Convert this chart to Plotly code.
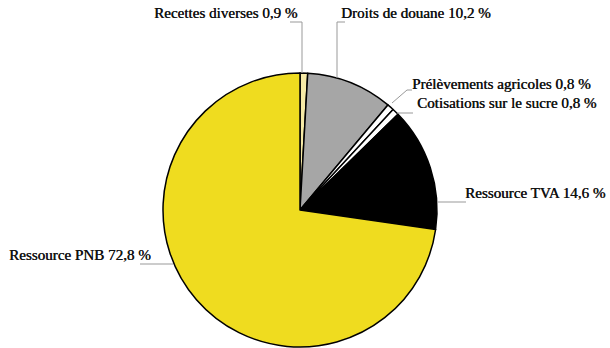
import plotly.graph_objects as go

labels = ["Recettes diverses", "Droits de douane", "Prélèvements agricoles",
          "Cotisations sur le sucre", "Ressource TVA", "Ressource PNB"]
values = [0.9, 10.2, 0.8, 0.8, 14.6, 72.8]
value_text = ["0,9 %", "10,2 %", "0,8 %", "0,8 %", "14,6 %", "72,8 %"]
colors = ["#F6EAA6", "#A6A6A6", "#FFFFFF", "#FFFFFF", "#000000", "#EFDC1F"]

W, H = 610, 348

def px(x, y):
    return x / W, 1 - y / H

fig = go.Figure(go.Pie(
    labels=labels, values=values, sort=False, direction="clockwise", rotation=0,
    marker=dict(colors=colors, line=dict(color="#000000", width=1.5)),
    textinfo="none", hoverinfo="label+percent", showlegend=False,
    domain=dict(x=[163 / W, 437 / W], y=[1 / H, 275 / H]),
))

# label layout (pixel positions, anchors) and leader lines
label_pos = [(300, 13, "right"), (339, 13, "left"), (410, 84, "left"),
             (415, 103, "left"), (463, 193, "left"), (153, 255, "right")]
leaders = [
    [(302, 73), (302, 22), (290, 22)],
    [(337, 78), (337, 22), (345, 22)],
    [(392, 103), (407, 90), (412, 90)],
    [(397, 113), (413, 113)],
    [(437, 202), (466, 202)],
    [(173, 264), (140, 264)],
]

for (lx, ly, anc), lab, vt in zip(label_pos, labels, value_text):
    ax, ay = px(lx, ly)
    fig.add_annotation(x=ax, y=ay, xref="paper", yref="paper", text=f"{lab} {vt}",
                       showarrow=False, xanchor=anc, yanchor="middle",
                       font=dict(family="Liberation Serif", size=15.1, color="#111111",
                                 shadow="0.4px 0 0 #111111"))

for pts in leaders:
    path = "M " + " L ".join(f"{px(x, y)[0]},{px(x, y)[1]}" for x, y in pts)
    fig.add_shape(type="path", path=path, xref="paper", yref="paper",
                  line=dict(color="#999999", width=1))

fig.update_layout(width=W, height=H, margin=dict(l=0, r=0, t=0, b=0),
                  paper_bgcolor="white", plot_bgcolor="white")
fig.write_html("out.html")
